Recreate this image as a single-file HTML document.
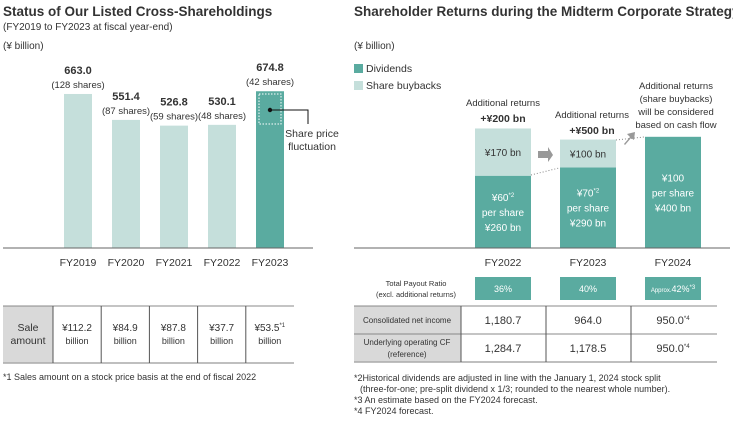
<!DOCTYPE html>
<html><head><meta charset="utf-8"><style>
body{margin:0;background:#fff;font-family:"Liberation Sans",sans-serif;}
svg text{font-family:"Liberation Sans",sans-serif;fill:#333;}
</style></head><body>
<svg width="733" height="419" viewBox="0 0 733 419" xmlns="http://www.w3.org/2000/svg">
<text x="3" y="16" font-size="13.5" font-weight="bold">Status of Our Listed Cross-Shareholdings</text>
<text x="3" y="30" font-size="10">(FY2019 to FY2023 at fiscal year-end)</text>
<text x="3" y="49" font-size="10">(¥ billion)</text>
<g id="leftChart"></g>
<line x1="3" y1="248" x2="313" y2="248" stroke="#666" stroke-width="1"/>
<rect x="259" y="94" width="22" height="30" fill="none" stroke="#fff" stroke-dasharray="1.5,1.5"/>
<circle cx="270" cy="110" r="2.2" fill="#111"/>
<polyline points="270,110 308,110 308,124" fill="none" stroke="#111" stroke-width="1"/>
<text x="312" y="137" font-size="10.5" text-anchor="middle">Share price</text>
<text x="312" y="150" font-size="10.5" text-anchor="middle">fluctuation</text>

<!-- left table -->
<g>
<rect x="3" y="306" width="50" height="57" fill="#d9d9d9"/>
<line x1="3" y1="306" x2="294" y2="306" stroke="#888"/>
<line x1="3" y1="363" x2="294" y2="363" stroke="#aaa" stroke-width="1.5"/>
<g id="leftTable"></g>
</g>
<text x="3" y="380" font-size="9">*1 Sales amount on a stock price basis at the end of fiscal 2022</text>

<!-- right -->
<text x="354" y="16" font-size="13.5" font-weight="bold">Shareholder Returns during the Midterm Corporate Strategy 2024</text>
<text x="354" y="49" font-size="10">(¥ billion)</text>
<rect x="354" y="64" width="9" height="9" fill="#5aaba0"/>
<text x="366" y="72" font-size="10.5">Dividends</text>
<rect x="354" y="81" width="9" height="9" fill="#c5dfdb"/>
<text x="366" y="89" font-size="10.5">Share buybacks</text>
<g id="rightChart"></g>
<line x1="354" y1="248" x2="730" y2="248" stroke="#666"/>
<line x1="531" y1="175" x2="559" y2="168" stroke="#888" stroke-dasharray="1,2"/>
<line x1="616" y1="140" x2="644" y2="137" stroke="#888" stroke-dasharray="1,2"/>
<polygon points="538,151 548,151 548,147 553,155 548,162 548,158 538,158" fill="#999"/>
<polygon points="624,144 630,137 627,134 635,132 634,140 631,138 625,145" fill="#999"/>
<text x="503" y="106" font-size="9.5" text-anchor="middle">Additional returns</text>
<text x="503" y="122" font-size="10.5" font-weight="bold" text-anchor="middle">+¥200 bn</text>
<text x="592" y="118" font-size="9.5" text-anchor="middle">Additional returns</text>
<text x="592" y="134" font-size="10.5" font-weight="bold" text-anchor="middle">+¥500 bn</text>
<g font-size="9.5" text-anchor="middle">
<text x="676" y="89">Additional returns</text><text x="676" y="102">(share buybacks)</text><text x="676" y="115">will be considered</text><text x="676" y="128">based on cash flow</text></g>
<g id="payout"></g>
<text x="416" y="286" font-size="7.5" text-anchor="middle">Total Payout Ratio</text>
<text x="416" y="297" font-size="7.5" text-anchor="middle">(excl. additional returns)</text>
<g>
<rect x="354" y="306" width="107" height="56" fill="#d9d9d9"/>
<line x1="354" y1="306" x2="717" y2="306" stroke="#888"/>
<line x1="354" y1="334" x2="717" y2="334" stroke="#888"/>
<line x1="354" y1="362" x2="717" y2="362" stroke="#aaa" stroke-width="1.5"/>
<line x1="461" y1="306" x2="461" y2="362" stroke="#555"/>
<line x1="546" y1="306" x2="546" y2="362" stroke="#555"/>
<line x1="631" y1="306" x2="631" y2="362" stroke="#555"/>
<text x="407" y="323" font-size="8" text-anchor="middle">Consolidated net income</text>
<text x="407" y="345" font-size="8" text-anchor="middle">Underlying operating CF</text>
<text x="407" y="357" font-size="8" text-anchor="middle">(reference)</text>
<g id="finTable"></g>
</g>
<g font-size="9">
<text x="354" y="381">*2Historical dividends are adjusted in line with the January 1, 2024 stock split</text>
<text x="360" y="392">(three-for-one; pre-split dividend x 1/3; rounded to the nearest whole number).</text>
<text x="354" y="403">*3 An estimate based on the FY2024 forecast.</text>
<text x="354" y="414">*4 FY2024 forecast.</text>
</g>
</svg>
<script>
const NS="http://www.w3.org/2000/svg";
const leftCats=["FY2019","FY2020","FY2021","FY2022","FY2023"];
const leftValues=[663.0,551.4,526.8,530.1,674.8];
const leftShares=[128,87,59,48,42];
const saleAmounts=["¥112.2","¥84.9","¥87.8","¥37.7","¥53.5"];
const rightCats=["FY2022","FY2023","FY2024"];
const dividends=[260,290,400];
const buybacks=[170,100,0];
const dividendPerShare=["¥60","¥70","¥100"];
const payoutRatios=["36%","40%","42%"];
const netIncome=["1,180.7","964.0","950.0"];
const operatingCF=["1,284.7","1,178.5","950.0"];
function mk(t,a,p,txt){const e=document.createElementNS(NS,t);for(const k in a)e.setAttribute(k,a[k]);if(txt!=null)e.textContent=txt;p.appendChild(e);return e;}
const base=248;
const ly=v=>base-v*0.2323;
const lx=i=>64+i*48;
const L=document.getElementById('leftChart');
leftValues.forEach((v,i)=>{
 const r=mk('rect',{x:lx(i),y:ly(v),width:28,height:base-ly(v),fill:i==4?'#5aaba0':'#c5dfdb'},L);
 
 
 const t=mk('text',{x:lx(i)+14,y:ly(v)-20,'font-size':11,'font-weight':'bold','text-anchor':'middle'},L,v.toFixed(1));
 
 
 const s=mk('text',{x:lx(i)+14,y:ly(v)-6,'font-size':9.5,'text-anchor':'middle'},L,'('+leftShares[i]+' shares)');
 
 
 const c=mk('text',{x:lx(i)+14,y:266,'font-size':10.5,'text-anchor':'middle'},L,leftCats[i]);
 
 
});
const LT=document.getElementById('leftTable');
mk('text',{x:28,y:331,'font-size':10.5,'text-anchor':'middle'},LT,'Sale');
mk('text',{x:28,y:344,'font-size':10.5,'text-anchor':'middle'},LT,'amount');
saleAmounts.forEach((s,i)=>{
 const x0=53+i*48.2;
 mk('line',{x1:x0,y1:306,x2:x0,y2:363,stroke:'#555'},LT);
 const t=mk('text',{x:x0+24,y:331,'font-size':10,'text-anchor':'middle'},LT,s);
 
 
 if(i==4){mk('tspan',{dy:-4,'font-size':6},t,'*1');}
 mk('text',{x:x0+24,y:344,'font-size':9,'text-anchor':'middle'},LT,'billion');
});
const sc=0.278;
const rx=i=>475+i*85;
const R=document.getElementById('rightChart');
rightCats.forEach((c,i)=>{
 const dTop=base-dividends[i]*sc, bTop=dTop-buybacks[i]*sc;
 const d=mk('rect',{x:rx(i),y:dTop,width:56,height:base-dTop,fill:'#5aaba0'},R);
 
 
 if(buybacks[i]>0){
  const b=mk('rect',{x:rx(i),y:bTop,width:56,height:dTop-bTop,fill:'#c5dfdb'},R);
  
  
  mk('text',{x:rx(i)+28,y:(bTop+dTop)/2+4,'font-size':10,'text-anchor':'middle'},R,'¥'+buybacks[i]+' bn');
 }
 const cy=(dTop+base)/2;
 const t1=mk('text',{x:rx(i)+28,y:cy-11,'font-size':10,'text-anchor':'middle',style:'fill:#fff'},R,dividendPerShare[i]);
 if(i<2)mk('tspan',{dy:-4,'font-size':6,style:'fill:#fff'},t1,'*2');
 mk('text',{x:rx(i)+28,y:cy+4,'font-size':10,'text-anchor':'middle',style:'fill:#fff'},R,'per share');
 mk('text',{x:rx(i)+28,y:cy+19,'font-size':10,'text-anchor':'middle',style:'fill:#fff'},R,'¥'+dividends[i]+' bn');
 const ct=mk('text',{x:rx(i)+28,y:266,'font-size':10.5,'text-anchor':'middle'},R,c);
 
 
});
const P=document.getElementById('payout');
payoutRatios.forEach((p,i)=>{
 const r=mk('rect',{x:rx(i),y:277,width:56,height:23,fill:'#5aaba0'},P);
 
 
 const t=mk('text',{x:rx(i)+28,y:292,'font-size':9,'text-anchor':'middle',style:'fill:#fff'},P,'');
 if(i==2){mk('tspan',{'font-size':6,style:'fill:#fff'},t,'Approx.');}
 mk('tspan',{style:'fill:#fff'},t,p);
 if(i==2){mk('tspan',{dy:-3,'font-size':6,style:'fill:#fff'},t,'*3');}
});
const F=document.getElementById('finTable');
[netIncome,operatingCF].forEach((row,r)=>{
 row.forEach((v,i)=>{
  const t=mk('text',{x:503+i*85,y:324+r*28,'font-size':11,'text-anchor':'middle'},F,v);
  
  
  if(i==2)mk('tspan',{dy:-4,'font-size':6},t,'*4');
 });
});
</script>
</body></html>
